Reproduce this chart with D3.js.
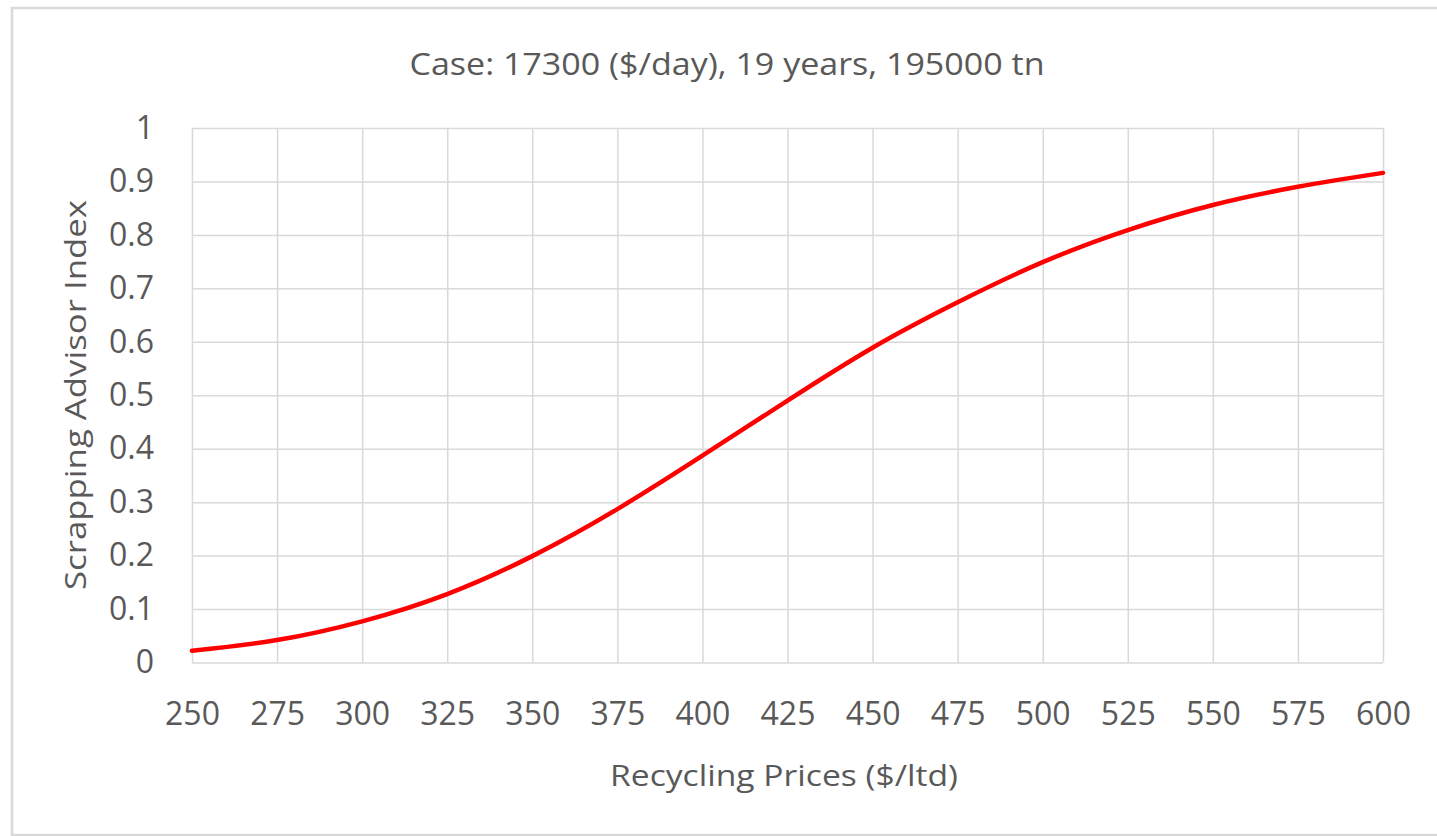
<!DOCTYPE html>
<html>
<head>
<meta charset="utf-8">
<script src="https://cdn.jsdelivr.net/npm/d3@7"></script>
<style>
  html, body { margin: 0; padding: 0; background: #fff; }
  svg { display: block; }
  text { font-family: "Open Sans", "Noto Sans", sans-serif; fill: #595959; }
</style>
</head>
<body>
<div id="chart"></div>
<script>
// values
const prices = [250, 275, 300, 325, 350, 375, 400, 425, 450, 475, 500, 525, 550, 575, 600];
const indexValues = [0.022, 0.042, 0.077, 0.128, 0.199, 0.287, 0.387, 0.49, 0.589, 0.674, 0.749, 0.809, 0.856, 0.890, 0.916];
const xTicks = [250, 275, 300, 325, 350, 375, 400, 425, 450, 475, 500, 525, 550, 575, 600];
const yTicks = [0, 0.1, 0.2, 0.3, 0.4, 0.5, 0.6, 0.7, 0.8, 0.9, 1];
const chartTitle = 'Case: 17300 ($/day), 19 years, 195000 tn';
const xTitle = 'Recycling Prices ($/ltd)';
const yTitle = 'Scrapping Advisor Index';

const W = 1437, H = 836;
const margin = { top: 128, right: 54, bottom: 173.5, left: 192 };
const iw = W - margin.left - margin.right;
const ih = H - margin.top - margin.bottom;

const svg = d3.select('#chart').append('svg')
  .attr('width', W)
  .attr('height', H);

// outer chart frame (right edge falls outside the picture)
svg.append('rect')
  .attr('x', 12).attr('y', 8)
  .attr('width', W + 20).attr('height', 827)
  .attr('fill', '#fff')
  .attr('stroke', '#d9d9d9')
  .attr('stroke-width', 2.5);

const x = d3.scaleLinear().domain([250, 600]).range([0, iw]);
const y = d3.scaleLinear().domain([0, 1]).range([ih, 0]);

const g = svg.append('g').attr('transform', `translate(${margin.left},${margin.top})`);

// grid
g.append('g')
  .attr('class', 'grid')
  .call(d3.axisLeft(y).tickValues(yTicks).tickSize(-iw).tickFormat(''))
  .call(s => s.select('.domain').remove());
g.append('g')
  .attr('class', 'grid')
  .attr('transform', `translate(0,${ih})`)
  .call(d3.axisBottom(x).tickValues(xTicks).tickSize(-ih).tickFormat(''))
  .call(s => s.select('.domain').remove());
g.selectAll('.grid line')
  .attr('stroke', '#d9d9d9')
  .attr('stroke-width', 1.5);

// axis labels
const yAxis = g.append('g')
  .call(d3.axisLeft(y).tickValues(yTicks).tickSize(0).tickPadding(38).tickFormat(d3.format('~g')));
yAxis.select('.domain').remove();
yAxis.selectAll('text')
  .attr('font-size', 32)
  .attr('font-family', '"Open Sans", sans-serif')
  .attr('fill', '#595959');

const xAxis = g.append('g')
  .attr('transform', `translate(0,${ih})`)
  .call(d3.axisBottom(x).tickValues(xTicks).tickSize(0).tickPadding(40).tickFormat(d3.format('d')));
xAxis.select('.domain').remove();
xAxis.selectAll('text')
  .attr('font-size', 32)
  .attr('font-family', '"Open Sans", sans-serif')
  .attr('fill', '#595959');

// series
const line = d3.line()
  .x((d, i) => x(prices[i]))
  .y(d => y(d))
  .curve(d3.curveNatural);

g.append('path')
  .datum(indexValues)
  .attr('d', line)
  .attr('fill', 'none')
  .attr('stroke', '#ff0000')
  .attr('stroke-width', 4.5)
  .attr('stroke-linecap', 'round');

// titles
svg.append('text')
  .text(chartTitle)
  .attr('x', 727).attr('y', 75)
  .attr('text-anchor', 'middle')
  .attr('font-size', 31)
  .attr('textLength', 635)
  .attr('lengthAdjust', 'spacingAndGlyphs');

svg.append('text')
  .text(xTitle)
  .attr('x', 784).attr('y', 786)
  .attr('text-anchor', 'middle')
  .attr('font-size', 30)
  .attr('textLength', 348)
  .attr('lengthAdjust', 'spacingAndGlyphs');

svg.append('text')
  .text(yTitle)
  .attr('transform', 'translate(86,395) rotate(-90)')
  .attr('text-anchor', 'middle')
  .attr('font-size', 30)
  .attr('textLength', 390)
  .attr('lengthAdjust', 'spacingAndGlyphs');
</script>
</body>
</html>
